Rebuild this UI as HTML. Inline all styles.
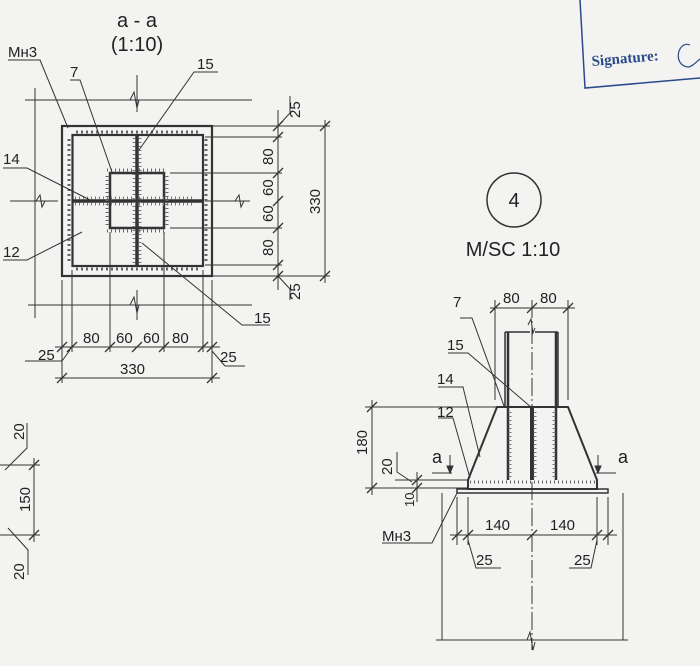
<!DOCTYPE html>
<html><head><meta charset="utf-8"><style>
html,body{margin:0;padding:0;background:#f3f3f1;}
svg{display:block;}
text{font-family:"Liberation Sans",sans-serif;fill:#222;}
</style></head><body>
<svg width="700" height="666" viewBox="0 0 700 666" xmlns="http://www.w3.org/2000/svg">
<rect width="700" height="666" fill="#f3f3f1"/>
<g stroke="#333" fill="none" stroke-width="1">
<!-- ===== Section a-a ===== -->
<line x1="25" y1="100" x2="252" y2="100"/>
<line x1="28" y1="305" x2="252" y2="305"/>
<line x1="35" y1="88" x2="35" y2="318"/>
<line x1="10" y1="201" x2="58" y2="201"/>
<line x1="205" y1="201" x2="250" y2="201"/>
<line x1="137" y1="75" x2="137" y2="112"/>
<line x1="137" y1="290" x2="137" y2="320"/>
<path d="M130 100 l4 -8 l3 16 l2 -8" />
<path d="M130 305 l4 -8 l3 16 l2 -8" />
<path d="M36 201 l4 -6 l2 12 l3 -6"/>
<path d="M235 201 l4 -6 l2 12 l3 -6"/>
<rect x="62" y="126" width="150" height="150" stroke-width="2.2"/>
<rect x="72.5" y="135" width="130.5" height="131" stroke-width="2.2"/>
<rect x="110" y="173" width="54" height="55" stroke-width="2.5"/>
<line x1="73" y1="201" x2="203" y2="201" stroke-width="3.5"/>
<line x1="137" y1="135" x2="137" y2="266" stroke-width="3.5"/>
<!-- weld ticks -->
<path d="M76 132 h124 M76 269 h124 M69 139 v124 M206 139 v124" stroke-dasharray="2 3" stroke-width="3" stroke="#666"/>
<path d="M107 170 h60 M107 231 h60 M107 176 v50 M167 176 v50" stroke-dasharray="1 3" stroke-width="3" stroke="#666"/>
<path d="M75 198 h120 M75 204 h120 M134 138 v125 M140 138 v125" stroke-dasharray="1 3" stroke-width="3" stroke="#777"/>
<!-- extension lines -->
<line x1="212" y1="126" x2="290" y2="126"/>
<line x1="205" y1="137" x2="282" y2="137"/>
<line x1="170" y1="173" x2="282" y2="173"/>
<line x1="170" y1="228" x2="282" y2="228"/>
<line x1="205" y1="265" x2="282" y2="265"/>
<line x1="212" y1="276" x2="330" y2="276"/>
<line x1="240" y1="126" x2="330" y2="126"/>
<line x1="278" y1="110" x2="278" y2="290"/>
<line x1="325" y1="120" x2="325" y2="283"/>
<line x1="62" y1="280" x2="62" y2="383"/>
<line x1="72" y1="270" x2="72" y2="352"/>
<line x1="110" y1="232" x2="110" y2="352"/>
<line x1="164" y1="232" x2="164" y2="352"/>
<line x1="203" y1="270" x2="203" y2="352"/>
<line x1="212" y1="280" x2="212" y2="383"/>
<line x1="55" y1="347" x2="220" y2="347"/>
<line x1="55" y1="378" x2="220" y2="378"/>
<line x1="25" y1="361" x2="62" y2="361"/>
<line x1="212" y1="351" x2="225" y2="366"/><line x1="225" y1="366" x2="245" y2="366"/>
<line x1="62" y1="361" x2="70" y2="350"/>
<line x1="278" y1="126" x2="290" y2="113"/><line x1="290" y1="113" x2="290" y2="96"/>
<line x1="278" y1="276" x2="290" y2="289"/><line x1="290" y1="289" x2="290" y2="300"/>
<g stroke-width="1.3">
<path d="M273 131l10 -10M273 142l10 -10M273 178l10 -10M273 206l10 -10M273 233l10 -10M273 270l10 -10M273 281l10 -10"/>
<path d="M320 131l10 -10M320 281l10 -10"/>
<path d="M57 352l10 -10M67 352l10 -10M105 352l10 -10M132 352l10 -10M159 352l10 -10M198 352l10 -10M207 352l10 -10"/>
<path d="M57 383l10 -10M207 383l10 -10"/>
</g>
<!-- leaders -->
<path d="M8 60 h32 l28 68"/>
<path d="M70 80 h10 l32 92"/>
<path d="M218 72 h-24 l-55 78"/>
<path d="M3 168 h24 l63 32"/>
<path d="M3 260 h24 l55 -28"/>
<path d="M270 325 h-28 l-100 -82"/>
<!-- ===== left bottom fragment ===== -->
<line x1="0" y1="465" x2="40" y2="465"/>
<line x1="0" y1="535" x2="40" y2="535"/>
<line x1="34" y1="458" x2="34" y2="542"/>
<path d="M29 470l10 -10M29 540l10 -10" stroke-width="1.3"/>
<path d="M5 470 l22 -22 v-25"/>
<path d="M8 528 l20 22 v25"/>
<!-- ===== Node 4 ===== -->
<circle cx="514" cy="200" r="27" stroke-width="1.5"/>
<line x1="532" y1="300" x2="532" y2="650" stroke-dasharray="18 3 2 3"/>
<path d="M505 332 v75 M558 332 v75 M505 332 h25 M535 332 h23" stroke-width="1.5"/>
<path d="M528 325 l3 -6 l2 14 l2 -5"/>
<line x1="508" y1="332" x2="508" y2="480" stroke-width="2.5"/>
<line x1="556" y1="332" x2="556" y2="480" stroke-width="2.5"/>
<line x1="532" y1="407" x2="532" y2="480" stroke-width="4"/>
<path d="M497 407 h71 l29 73 v9 h-129 v-9 z" stroke-width="2"/>
<rect x="457" y="489" width="151" height="4" stroke-width="1.5"/>
<path d="M470 482 h125" stroke="#666" stroke-width="3" stroke-dasharray="1 3"/>
<path d="M510 412 v66 M554 412 v66 M535 412 v66" stroke="#777" stroke-width="3" stroke-dasharray="1 3"/>
<path d="M442 493 v147 M623 493 v147 M436 640 h192"/>
<path d="M527 640 l3 -8 l3 18 l2 -8"/>
<!-- dims node 4 -->
<line x1="495" y1="300" x2="495" y2="400"/>
<line x1="568" y1="300" x2="568" y2="400"/>
<line x1="490" y1="308" x2="575" y2="308"/>
<path d="M490 313l10 -10M527 313l10 -10M563 313l10 -10" stroke-width="1.3"/>
<line x1="365" y1="407" x2="497" y2="407"/>
<line x1="365" y1="488" x2="468" y2="488"/>
<line x1="395" y1="480" x2="468" y2="480"/>
<line x1="372" y1="400" x2="372" y2="495"/>
<line x1="417" y1="472" x2="417" y2="502"/>
<path d="M367 412l10 -10M367 493l10 -10M412 485l10 -10M412 493l10 -10" stroke-width="1.3"/>
<path d="M397 452 v20 l15 10"/>
<line x1="457" y1="497" x2="457" y2="545"/>
<line x1="468" y1="497" x2="468" y2="545"/>
<line x1="597" y1="497" x2="597" y2="545"/>
<line x1="608" y1="497" x2="608" y2="545"/>
<line x1="450" y1="535" x2="617" y2="535"/>
<path d="M452 540l10 -10M463 540l10 -10M527 540l10 -10M592 540l10 -10M603 540l10 -10" stroke-width="1.3"/>
<path d="M468 540 l8 28 h25"/>
<path d="M597 540 l-6 28 h-22"/>
<path d="M382 543 h50 l25 -50"/>
<path d="M460 318 h12 l32 88"/>
<path d="M448 353 h20 l64 55"/>
<path d="M438 387 h25 l17 70"/>
<path d="M438 418 h15 l17 60"/>
<!-- section marks -->
<path d="M432 473 h20 M450 455 v18"/>
<path d="M596 473 h20 M598 455 v18"/>
<path d="M447 466 l3 7 l3 -7z M595 466 l3 7 l3 -7z" fill="#333"/>
<!-- signature box -->
<path d="M580 0 L585 88 L700 78" stroke="#2a4a8a" stroke-width="1.5"/>
<path d="M690 45 c-12 -5 -18 20 -2 22 c4 0 8 -5 12 -8" stroke="#2a4a8a" stroke-width="1.2"/>
</g>
<!-- text -->
<text x="137" y="27" font-size="20" text-anchor="middle">a - a</text>
<text x="137" y="51" font-size="20" text-anchor="middle">(1:10)</text>
<g font-size="15">
<text x="8" y="57">Мн3</text>
<text x="70" y="77">7</text>
<text x="197" y="69">15</text>
<text x="3" y="164">14</text>
<text x="3" y="257">12</text>
<text x="254" y="323">15</text>
<text x="83" y="343">80</text>
<text x="116" y="343">60</text>
<text x="143" y="343">60</text>
<text x="172" y="343">80</text>
<text x="38" y="360">25</text>
<text x="220" y="362">25</text>
<text x="120" y="374">330</text>
<text transform="translate(300,118) rotate(-90)">25</text>
<text transform="translate(273,165) rotate(-90)">80</text>
<text transform="translate(273,196) rotate(-90)">60</text>
<text transform="translate(273,222) rotate(-90)">60</text>
<text transform="translate(273,256) rotate(-90)">80</text>
<text transform="translate(320,214) rotate(-90)">330</text>
<text transform="translate(300,300) rotate(-90)">25</text>
<text transform="translate(24,440) rotate(-90)">20</text>
<text transform="translate(30,512) rotate(-90)">150</text>
<text transform="translate(24,580) rotate(-90)">20</text>
<text x="514" y="207" font-size="20" text-anchor="middle">4</text>
<text x="513" y="256" font-size="20" text-anchor="middle">M/SC 1:10</text>
<text x="503" y="303">80</text>
<text x="540" y="303">80</text>
<text x="453" y="307">7</text>
<text x="447" y="350">15</text>
<text x="437" y="384">14</text>
<text x="437" y="417">12</text>
<text transform="translate(367,455) rotate(-90)">180</text>
<text transform="translate(392,475) rotate(-90)">20</text>
<text transform="translate(414,507) rotate(-90)" font-size="13">10</text>
<text x="432" y="463" font-size="18">a</text>
<text x="618" y="463" font-size="18">a</text>
<text x="485" y="530">140</text>
<text x="550" y="530">140</text>
<text x="382" y="541">Мн3</text>
<text x="476" y="565">25</text>
<text x="574" y="565">25</text>
</g>
<text x="592" y="66" font-size="15" font-weight="bold" style="font-family:'Liberation Serif',serif;fill:#2a4a8a" transform="rotate(-5 592 66)">Signature:</text>
</svg>
</body></html>
